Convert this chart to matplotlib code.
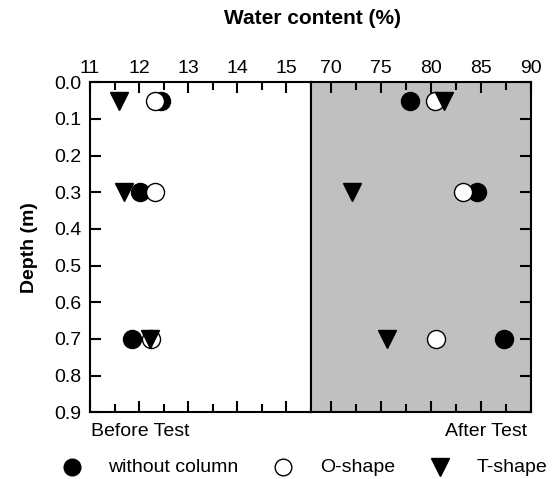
import matplotlib
matplotlib.use('Agg')
from matplotlib import pyplot as plt
from matplotlib.lines import Line2D
from matplotlib.ticker import MultipleLocator

plt.rcParams['font.family'] = ['Liberation Sans', 'DejaVu Sans']

# profundidades (m)
depth = [0.05, 0.3, 0.7]

# contenido de agua antes del ensayo (%)
before_none = [12.45, 12.02, 11.85]
before_o = [12.33, 12.33, 12.24]
before_t = [11.6, 11.69, 12.23]

# contenido de agua despues del ensayo (%)
after_none = [77.9, 84.6, 87.3]
after_o = [80.4, 83.2, 80.5]
after_t = [81.3, 72.1, 75.6]

labels = ['without column', 'O-shape', 'T-shape']

W, H = 554, 479
fs = 14
fig = plt.figure(figsize=(W/100, H/100), dpi=100)
ax1 = fig.add_axes([90/W, (H-412.3)/H, 220.7/W, 330/H])
ax2 = fig.add_axes([310.7/W, (H-412.3)/H, 220/W, 330/H])
ax2.set_facecolor('#c0c0c0')

ms = 13
for ax, xn, xo, xt in [(ax1, before_none, before_o, before_t),
                       (ax2, after_none, after_o, after_t)]:
    ax.plot(xn, depth, 'o', color='k', ms=ms, ls='none')
    ax.plot(xo, depth, 'o', mfc='white', mec='k', mew=1, ms=ms, ls='none')
    ax.plot(xt, depth, 'v', color='k', ms=ms, ls='none')
    ax.set_ylim(0.9, 0.0)
    ax.yaxis.set_major_locator(MultipleLocator(0.1))
    for s in ax.spines.values():
        s.set_linewidth(1.5)
    ax.xaxis.tick_top()
    ax.tick_params(axis='x', which='both', direction='in', top=True, bottom=True,
                   labeltop=True, labelbottom=False, labelsize=fs, width=1.5, pad=4)
    ax.tick_params(axis='y', which='both', direction='in', labelsize=fs, width=1.5)
    ax.tick_params(which='major', length=8)
    ax.tick_params(which='minor', length=5.5)

ax1.set_xlim(11, 15.5)
ax1.xaxis.set_major_locator(MultipleLocator(1))
ax1.xaxis.set_minor_locator(MultipleLocator(0.5))
ax1.tick_params(axis='y', left=True, right=False, pad=6)
ax1.set_yticklabels(['%.1f' % v for v in ax1.get_yticks()])
ax1.set_ylabel('Depth (m)', fontsize=fs, fontweight='bold', labelpad=12)

ax2.set_xlim(68, 90)
ax2.xaxis.set_major_locator(MultipleLocator(5))
ax2.xaxis.set_minor_locator(MultipleLocator(2.5))
ax2.tick_params(axis='y', left=False, right=True, labelleft=False)

fig.text(313/W, 1 - 18/H, 'Water content (%)', ha='center', va='center',
         fontsize=15, fontweight='bold')
fig.text(91/W, 1 - 432/H, 'Before Test', ha='left', va='center', fontsize=fs)
fig.text(527/W, 1 - 432/H, 'After Test', ha='right', va='center', fontsize=fs)

# leyenda manual
leg_y = 1 - 467/H
styles = [dict(marker='o', color='k', ms=ms - 1),
          dict(marker='o', mfc='white', mec='k', mew=1, ms=ms - 1),
          dict(marker='v', color='k', ms=ms)]
mark_x = [72, 283, 440]
text_x = [108, 320, 477]
for st, mx, tx, lab in zip(styles, mark_x, text_x, labels):
    fig.add_artist(Line2D([mx/W], [leg_y], ls='none', transform=fig.transFigure, **st))
    fig.text(tx/W, leg_y, lab, ha='left', va='center', fontsize=fs)

fig.savefig('out.png', dpi=100)
